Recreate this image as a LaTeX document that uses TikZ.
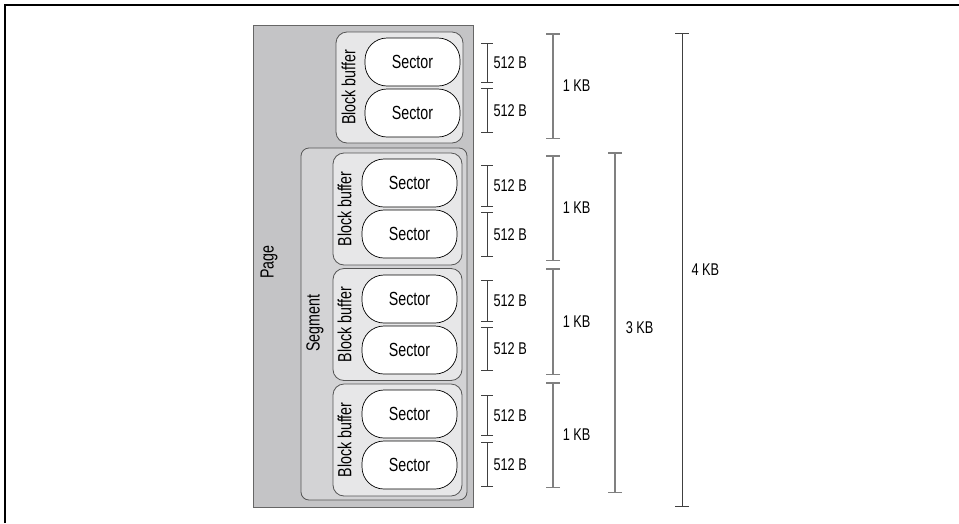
\documentclass[tikz,border=0pt]{standalone}
\usepackage{fontspec}
\setmainfont{Liberation Sans}[FakeStretch=0.75]
\usetikzlibrary{arrows.meta,positioning}

\definecolor{pagegray}{RGB}{196,196,198}
\definecolor{seggray}{RGB}{211,211,213}
\definecolor{blockgray}{RGB}{231,231,232}
\definecolor{edgegray}{RGB}{85,85,85}

\begin{document}
\begin{tikzpicture}[
    x=1pt, y=-1pt,
    pagebox/.style={draw=black!60, fill=pagegray, line width=1pt, minimum width=220pt, minimum height=482pt, inner sep=0pt},
    segbox/.style={draw=edgegray, fill=seggray, rounded corners=8pt, line width=0.8pt, minimum width=166pt, minimum height=352pt, inner sep=0pt},
    blockbox/.style={draw=edgegray, fill=blockgray, rounded corners=11pt, line width=0.8pt, minimum width=129pt, minimum height=112pt, inner sep=0pt},
    sectorbox/.style={draw=black, fill=white, rounded corners=22pt, line width=0.7pt, minimum width=95pt, minimum height=48pt, inner sep=0pt, font=\fontsize{19}{22}\selectfont},
    lbl/.style={rotate=90, inner sep=0pt, font=\fontsize{19}{22}\selectfont},
    thindim/.style={draw=black!75, line width=1pt, {Bar[width=12pt]}-{Bar[width=12pt]}},
    thickdim/.style={draw=black!50, line width=1.5pt, {Bar[width=14pt]}-{Bar[width=14pt]}},
    dimlbl/.style={anchor=west, inner sep=0pt, font=\fontsize{17}{20}\selectfont}
]
\useasboundingbox (0,0) rectangle (959,523);
\draw[line width=1.5pt] (5,523) -- (5,5) -- (959,5);

% page and segment
\node[pagebox] (page) at (363,266) {};
\node[lbl] (pagelbl) at (269,262) {Page};
\node[segbox] (segment) at (384,324) {};
\node[lbl] (seglbl) at (315,323) {Segment};

% block buffers
\node[blockbox, minimum width=127pt, minimum height=111pt] (block1) at (399.5,87.5) {};
\node[blockbox] (block2) at (397.5,209) {};
\node[blockbox] (block3) at (397.5,324.5) {};
\node[blockbox] (block4) at (397.5,440) {};
\node[lbl] (bb1) at ([xshift=13pt]block1.west) {Block buffer};
\node[lbl] (bb2) at ([xshift=12pt]block2.west) {Block buffer};
\node[lbl] (bb3) at ([xshift=12pt]block3.west) {Block buffer};
\node[lbl] (bb4) at ([xshift=12pt]block4.west) {Block buffer};

% sectors
\node[sectorbox] (s1a) at (412.5,62) {Sector};
\node[sectorbox] (s1b) at (412.5,113) {Sector};
\node[sectorbox] (s2a) at (409.5,183) {Sector};
\node[sectorbox] (s2b) at (409.5,234) {Sector};
\node[sectorbox] (s3a) at (409.5,299) {Sector};
\node[sectorbox] (s3b) at (409.5,350) {Sector};
\node[sectorbox] (s4a) at (409.5,414) {Sector};
\node[sectorbox] (s4b) at (409.5,465) {Sector};

% 512 B marks
\coordinate (b1t) at (487,43);  \coordinate (b1m) at (487,83);
\coordinate (b1n) at (487,88);  \coordinate (b1b) at (487,133);
\coordinate (b2t) at (487,165); \coordinate (b2m) at (487,207);
\coordinate (b2n) at (487,212); \coordinate (b2b) at (487,257);
\coordinate (b3t) at (487,280); \coordinate (b3m) at (487,322);
\coordinate (b3n) at (487,327); \coordinate (b3b) at (487,371);
\coordinate (b4t) at (487,395); \coordinate (b4m) at (487,436);
\coordinate (b4n) at (487,442); \coordinate (b4b) at (487,487);
\draw[thindim] (b1t) -- node[dimlbl, xshift=6pt] {512 B} (b1m);
\draw[thindim] (b1n) -- node[dimlbl, xshift=6pt] {512 B} (b1b);
\draw[thindim] (b2t) -- node[dimlbl, xshift=6pt] {512 B} (b2m);
\draw[thindim] (b2n) -- node[dimlbl, xshift=6pt] {512 B} (b2b);
\draw[thindim] (b3t) -- node[dimlbl, xshift=6pt] {512 B} (b3m);
\draw[thindim] (b3n) -- node[dimlbl, xshift=6pt] {512 B} (b3b);
\draw[thindim] (b4t) -- node[dimlbl, xshift=6pt] {512 B} (b4m);
\draw[thindim] (b4n) -- node[dimlbl, xshift=6pt] {512 B} (b4b);

% 1 KB marks
\coordinate (k1t) at (553,33);  \coordinate (k1b) at (553,139);
\coordinate (k2t) at (553,155); \coordinate (k2b) at (553,261);
\coordinate (k3t) at (553,268); \coordinate (k3b) at (553,375);
\coordinate (k4t) at (553,382); \coordinate (k4b) at (553,488);
\draw[thickdim] (k1t) -- node[dimlbl, xshift=9pt] {1 KB} (k1b);
\draw[thickdim] (k2t) -- node[dimlbl, xshift=9pt] {1 KB} (k2b);
\draw[thickdim] (k3t) -- node[dimlbl, xshift=9pt] {1 KB} (k3b);
\draw[thickdim] (k4t) -- node[dimlbl, xshift=9pt] {1 KB} (k4b);

% 3 KB and 4 KB
\coordinate (m3t) at (615,152); \coordinate (m3b) at (615,493);
\coordinate (m4t) at (682,33);  \coordinate (m4b) at (682,507);
\draw[thickdim] (m3t) -- node[dimlbl, xshift=10pt, yshift=-5pt] {3 KB} (m3b);
\draw[thindim, {Bar[width=14pt]}-{Bar[width=14pt]}] (m4t) -- node[dimlbl, xshift=9pt] {4 KB} (m4b);
\end{tikzpicture}
\end{document}
